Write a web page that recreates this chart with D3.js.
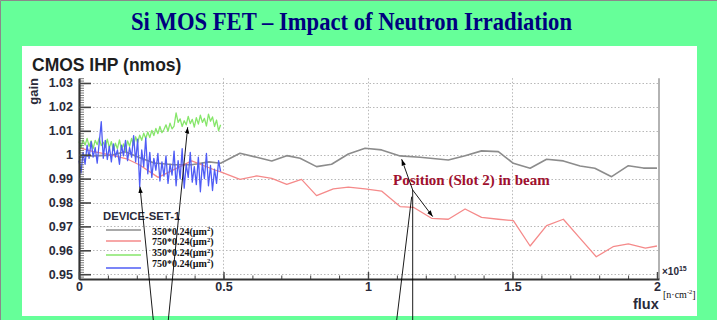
<!DOCTYPE html>
<html><head><meta charset="utf-8">
<script src="https://cdn.jsdelivr.net/npm/d3@7"></script>
<style>html,body{margin:0;padding:0;background:#66ff99;}svg{display:block;}</style>
</head><body>
<script>
// ---------- data ----------
const pageTitle = "Si MOS FET \u2013 Impact of Neutron Irradiation";
const chartTitle = "CMOS IHP (nmos)";
const yTicks = [0.95, 0.96, 0.97, 0.98, 0.99, 1, 1.01, 1.02, 1.03];
const yTickLabels = ["0.95", "0.96", "0.97", "0.98", "0.99", "1", "1.01", "1.02", "1.03"];
const xTicks = [0, 0.5, 1, 1.5, 2];
const xTickLabels = ["0", "0.5", "1", "1.5", "2"];
const seriesNames = ["350*0.24(\u00b5m", "750*0.24(\u00b5m", "350*0.24(\u00b5m", "750*0.24(\u00b5m"];
const seriesColors = ["#8c8c8c", "#f58a8a", "#86e66a", "#4f5cf5"];

const grayFlux = [0, 0.05, 0.11, 0.16, 0.215, 0.26, 0.33, 0.39, 0.45, 0.49, 0.557, 0.615, 0.667, 0.719, 0.765, 0.822, 0.874, 0.932, 0.99, 1.047, 1.111, 1.18, 1.278, 1.336, 1.393, 1.451, 1.503, 1.561, 1.618, 1.676, 1.734, 1.785, 1.843, 1.901, 1.953, 2.0];
const grayGain = [0.9993, 0.9995, 0.9998, 1.0012, 0.9985, 0.9965, 0.9958, 0.9958, 0.9970, 0.9964, 1.0006, 0.9989, 0.9974, 0.9996, 0.9985, 0.9950, 0.9960, 1.0003, 1.0027, 1.0020, 0.9995, 0.9989, 0.9978, 0.9996, 1.0016, 1.0013, 0.9964, 0.9943, 0.9981, 0.9974, 0.9953, 0.9943, 0.9908, 0.9954, 0.9944, 0.9944];

const redFlux = [0, 0.05, 0.11, 0.165, 0.21, 0.274, 0.39, 0.47, 0.488, 0.557, 0.615, 0.667, 0.719, 0.77, 0.822, 0.88, 0.932, 0.99, 1.047, 1.111, 1.157, 1.22, 1.278, 1.336, 1.393, 1.451, 1.503, 1.561, 1.618, 1.676, 1.734, 1.79, 1.848, 1.901, 1.96, 2.0];
const redGain = [1.0030, 1.0013, 0.9999, 0.9983, 0.9957, 0.9905, 0.9974, 0.9936, 0.9929, 0.9897, 0.9911, 0.9901, 0.9876, 0.9897, 0.9829, 0.9857, 0.9864, 0.9857, 0.9848, 0.9783, 0.9780, 0.9734, 0.9730, 0.9773, 0.9738, 0.9730, 0.9724, 0.9618, 0.9703, 0.9730, 0.9650, 0.9573, 0.9615, 0.9627, 0.9609, 0.9618];

const fineStep = 0.007; // flux spacing of the dense (set 2) measurements
const greenGain = [1.0055, 1.0030, 1.0062, 1.0040, 1.0068, 1.0035, 1.0058, 1.0025, 1.0060, 1.0042, 1.0070, 1.0038, 1.0052, 1.0030, 1.0065,
  1.0028, 1.0055, 1.0018, 1.0048, 1.0025, 1.0062, 1.0020, 1.0045, 1.0015, 1.0058, 1.0035, 1.0068, 1.0040, 1.0075,
  1.0050, 1.0082, 1.0060, 1.0090, 1.0068, 1.0095, 1.0072, 1.0102, 1.0080, 1.0110, 1.0088, 1.0118, 1.0092, 1.0105,
  1.0125, 1.0098, 1.0132, 1.0108, 1.0120, 1.0175, 1.0135, 1.0150, 1.0118, 1.0142, 1.0125, 1.0160, 1.0130, 1.0148, 1.0115,
  1.0155, 1.0128, 1.0165, 1.0135, 1.0152, 1.0120, 1.0170, 1.0140, 1.0158, 1.0118, 1.0145, 1.0100, 1.0125];
const blueGain = [0.9975, 0.9924, 1.0010, 0.9960, 1.0040, 0.9985, 1.0055, 0.9990, 1.0030, 0.9965, 1.0050, 1.0138, 0.9985, 1.0060, 0.9980,
  1.0035, 0.9970, 1.0045, 0.9990, 1.0020, 0.9960, 1.0040, 0.9995, 1.0060, 0.9975, 1.0030, 0.9990, 1.0080, 0.9970,
  1.0065, 0.9866, 1.0020, 0.9950, 1.0070, 0.9920, 1.0010, 0.9905, 0.9985, 0.9935, 1.0005, 0.9890, 0.9970, 0.9910,
  0.9995, 0.9880, 0.9960, 0.9915, 1.0015, 0.9870, 0.9975, 0.9900, 1.0025, 0.9860, 0.9960, 0.9905, 1.0010, 0.9885, 0.9950,
  0.9875, 0.9990, 0.9845, 0.9965, 0.9900, 1.0005, 0.9870, 0.9955, 0.9850, 0.9940, 0.9880, 0.9975, 0.9930];

// annotation arrow tips (data coordinates)
const arrowTips = [[0.211, 0.9866], [0.376, 1.0115], [1.1166, 0.9981], [1.2239, 0.9741]];

// ---------- drawing ----------
const W = 717, H = 320;
const svg = d3.select("body").append("svg").attr("width", W).attr("height", H);
svg.append("rect").attr("width", W).attr("height", H).attr("fill", "#66ff99");
svg.append("path").attr("d", `M0.5,${H}V0.5H${W}`).attr("fill", "none").attr("stroke", "#8a8a8a").attr("stroke-width", 1);

svg.append("text").attr("x", 351.5).attr("y", 30).attr("text-anchor", "middle")
  .attr("font-family", "Liberation Serif").attr("font-weight", "bold").attr("font-size", 26)
  .attr("textLength", 441).attr("lengthAdjust", "spacingAndGlyphs")
  .attr("fill", "#00007f").text(pageTitle);

svg.append("rect").attr("x", 22).attr("y", 46).attr("width", 675).attr("height", 270).attr("fill", "#ffffff");

const x = d3.scaleLinear().domain([0, 2.007]).range([79, 659]);
const y = d3.scaleLinear().domain([0.948, 1.032]).range([279, 78.2]);
const [x0, x1] = x.range(), [yb, yt] = y.range();

// grid
const grid = svg.append("g").attr("stroke", "#b8b8b8").attr("stroke-width", 1).attr("stroke-dasharray", "1.5,2");
grid.selectAll("line.h").data(yTicks).join("line").attr("class", "h")
  .attr("x1", x0).attr("x2", x1).attr("y1", d => Math.round(y(d)) + 0.5).attr("y2", d => Math.round(y(d)) + 0.5);
grid.selectAll("line.v").data(xTicks.slice(1, 4)).join("line").attr("class", "v")
  .attr("y1", yt).attr("y2", yb).attr("x1", d => Math.round(x(d)) + 0.5).attr("x2", d => Math.round(x(d)) + 0.5);

// right frame
svg.append("line").attr("x1", x1).attr("x2", x1).attr("y1", yt).attr("y2", yb).attr("stroke", "#9a9a9a").attr("stroke-width", 1.5);

// series
const line = d3.line().x(d => x(d[0])).y(d => y(d[1]));
const series = [
  grayFlux.map((f, i) => [f, grayGain[i]]),
  redFlux.map((f, i) => [f, redGain[i]]),
  greenGain.map((g, i) => [i * fineStep, g]),
  blueGain.map((g, i) => [i * fineStep, g])
];
const widths = [1.6, 1.3, 1.3, 1.3];
series.forEach((s, k) => {
  svg.append("path").datum(s).attr("d", line).attr("fill", "none")
    .attr("stroke", seriesColors[k]).attr("stroke-width", widths[k]).attr("stroke-linejoin", "round");
});

// axes
const axisFont = "Liberation Sans";
const yMinor = d3.range(948, 1033).map(v => v / 1000);
const gy = svg.append("g").attr("transform", `translate(${x0},0)`);
gy.call(d3.axisLeft(y).tickValues(yMinor).tickSize(-5).tickSizeOuter(0).tickFormat(""));
gy.call(g => g.selectAll(".tick line").attr("stroke", "#555").attr("stroke-width", 0.8));
const gyM = svg.append("g").attr("transform", `translate(${x0},0)`);
gyM.call(d3.axisLeft(y).tickValues(yTicks).tickSize(-12).tickSizeOuter(0).tickPadding(6).tickFormat((d, i) => yTickLabels[i]));
gyM.select(".domain").attr("stroke", "#333").attr("stroke-width", 2.2);
gyM.selectAll(".tick line").attr("stroke", "#444").attr("stroke-width", 1.6);
gyM.selectAll(".tick text").attr("font-family", axisFont).attr("font-weight", "bold").attr("font-size", 12.5).attr("fill", "#2a2a3a");
gy.select(".domain").remove();

const xMinor = d3.range(0, 21).map(v => v / 10);
const gx = svg.append("g").attr("transform", `translate(0,${yb})`);
gx.call(d3.axisBottom(x).tickValues(xMinor).tickSize(-3.5).tickSizeOuter(0).tickFormat(""));
gx.selectAll(".tick line").attr("stroke", "#444").attr("stroke-width", 1);
gx.select(".domain").remove();
const gxM = svg.append("g").attr("transform", `translate(0,${yb})`);
gxM.call(d3.axisBottom(x).tickValues(xTicks).tickSize(-7).tickSizeOuter(0).tickPadding(3).tickFormat((d, i) => xTickLabels[i]));
gxM.select(".domain").attr("stroke", "#333").attr("stroke-width", 2.2);
gxM.selectAll(".tick line").attr("stroke", "#444").attr("stroke-width", 1.4);
gxM.selectAll(".tick text").attr("font-family", axisFont).attr("font-weight", "bold").attr("font-size", 12.5).attr("fill", "#2a2a3a");

// chart title and axis titles
svg.append("text").attr("x", 32).attr("y", 71).attr("font-family", axisFont).attr("font-weight", "bold")
  .attr("font-size", 17.5).attr("fill", "#1e1e1e").text(chartTitle);
svg.append("text").attr("transform", "translate(38,78) rotate(-90)").attr("text-anchor", "end")
  .attr("font-family", axisFont).attr("font-weight", "bold").attr("font-size", 13).attr("fill", "#2a2a3a").text("gain");
svg.append("text").attr("x", 633).attr("y", 309).attr("font-family", axisFont).attr("font-weight", "bold")
  .attr("font-size", 14.5).attr("fill", "#2a2a3a").text("flux");
const sci = svg.append("text").attr("x", 662).attr("y", 275).attr("font-family", axisFont).attr("font-weight", "bold")
  .attr("font-size", 10).attr("fill", "#2a2a3a");
sci.append("tspan").text("\u00d710");
sci.append("tspan").attr("font-size", 7).attr("dy", -4).text("15");
const unit = svg.append("text").attr("x", 663).attr("y", 298).attr("font-family", "Liberation Serif")
  .attr("font-size", 10).attr("fill", "#111");
unit.append("tspan").text("[n\u00b7cm");
unit.append("tspan").attr("font-size", 6.5).attr("dy", -4).text("-2");
unit.append("tspan").attr("dy", 4).text("]");

// legend
svg.append("text").attr("x", 103).attr("y", 220).attr("font-family", axisFont).attr("font-weight", "bold")
  .attr("font-size", 11.3).attr("fill", "#2a2a3a").text("DEVICE-SET-1");
const legLineY = [230, 241, 255, 268];
const legTextY = [234.5, 245.3, 256, 266.7];
seriesNames.forEach((n, k) => {
  svg.append("line").attr("x1", 106).attr("x2", 141).attr("y1", legLineY[k]).attr("y2", legLineY[k])
    .attr("stroke", seriesColors[k]).attr("stroke-width", 1.4);
  const t = svg.append("text").attr("x", 152).attr("y", legTextY[k]).attr("font-family", "Liberation Serif")
    .attr("font-weight", "bold").attr("font-size", 10).attr("fill", "#111");
  t.append("tspan").text(n);
  t.append("tspan").attr("font-size", 6.5).attr("dy", -3.5).text("2");
  t.append("tspan").attr("dy", 3.5).text(")");
});

// annotation
svg.append("text").attr("x", 393).attr("y", 185).attr("font-family", "Liberation Serif").attr("font-weight", "bold")
  .attr("font-size", 15).attr("fill", "#a0102e").text("Position (Slot 2) in beam");

svg.append("defs").append("marker").attr("id", "ah").attr("viewBox", "0 0 10 10").attr("refX", 10).attr("refY", 5)
  .attr("markerWidth", 7).attr("markerHeight", 7).attr("orient", "auto-start-reverse")
  .append("path").attr("d", "M0,1.5L10,5L0,8.5Z").attr("fill", "#000");
const tails = [[153.3, 320], [168.3, 320], [412.7, 190], [412.7, 190]];
arrowTips.forEach((tp, i) => {
  svg.append("line").attr("x1", tails[i][0]).attr("y1", tails[i][1]).attr("x2", x(tp[0])).attr("y2", y(tp[1]))
    .attr("stroke", "#000").attr("stroke-width", 0.9).attr("marker-end", "url(#ah)");
});
svg.append("line").attr("x1", 412.7).attr("y1", 190).attr("x2", 412.7).attr("y2", 320).attr("stroke", "#000").attr("stroke-width", 0.9);
svg.append("line").attr("x1", 411.7).attr("y1", 196.7).attr("x2", 396.7).attr("y2", 320).attr("stroke", "#000").attr("stroke-width", 0.9);
</script>
</body></html>
